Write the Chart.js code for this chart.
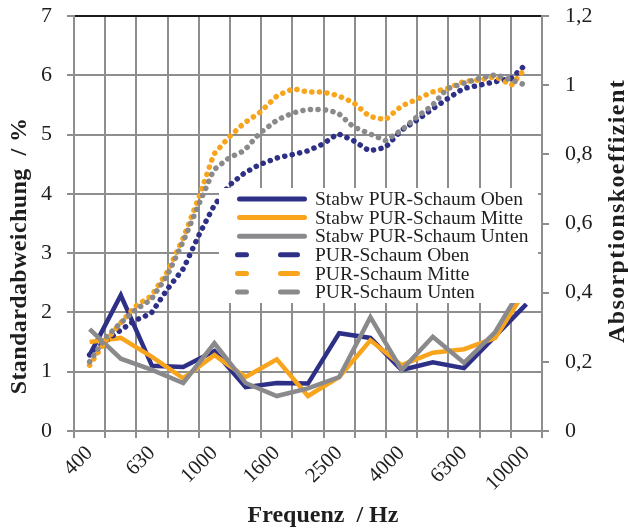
<!DOCTYPE html>
<html>
<head>
<meta charset="utf-8">
<script src="https://cdn.jsdelivr.net/npm/chart.js@4.4.1/dist/chart.umd.min.js"></script>
<style>
  html, body { margin: 0; padding: 0; background: #fff; }
  canvas { display: block; }
</style>
</head>
<body>
<canvas id="chart" width="628" height="531"></canvas>
<script>
// Terzbaender (Kategorien der Standardabweichung)
const bands = ['400', '500', '630', '800', '1000', '1250', '1600', '2000', '2500', '3150', '4000', '5000', '6300', '8000', '10000'];

// Standardabweichung in %
const stabwOben  = [1.28, 2.29, 1.10, 1.08, 1.35, 0.74, 0.81, 0.80, 1.65, 1.57, 1.03, 1.16, 1.06, 1.60, 2.14];
const stabwMitte = [1.50, 1.57, 1.25, 0.89, 1.28, 0.91, 1.21, 0.59, 0.91, 1.53, 1.11, 1.32, 1.38, 1.57, 2.40];
const stabwUnten = [1.72, 1.22, 1.03, 0.81, 1.48, 0.81, 0.59, 0.72, 0.91, 1.92, 1.03, 1.59, 1.15, 1.67, 2.55];

// Absorptionskoeffizient (feinere Frequenzaufloesung, Hz)
const absFreq  = [400, 450, 500, 560, 630, 710, 800, 900, 1000, 1120, 1250, 1400, 1600, 1800, 2000,
                  2240, 2500, 2800, 3150, 3550, 4000, 4500, 5000, 5600, 6300, 7100, 8000, 9000, 10000];
const absOben  = [0.22, 0.26, 0.29, 0.32, 0.34, 0.41, 0.47, 0.57, 0.65, 0.71, 0.745, 0.77, 0.79, 0.80, 0.81,
                  0.83, 0.86, 0.84, 0.81, 0.82, 0.87, 0.90, 0.93, 0.96, 0.99, 1.00, 1.01, 1.02, 1.06];
const absMitte = [0.19, 0.26, 0.31, 0.36, 0.39, 0.46, 0.56, 0.68, 0.80, 0.85, 0.89, 0.92, 0.97, 0.99, 0.98,
                  0.98, 0.97, 0.95, 0.91, 0.90, 0.94, 0.96, 0.98, 0.99, 1.01, 1.015, 1.025, 1.00, 1.05];
const absUnten = [0.20, 0.27, 0.31, 0.35, 0.38, 0.45, 0.55, 0.66, 0.755, 0.79, 0.81, 0.86, 0.90, 0.92, 0.93,
                  0.93, 0.92, 0.88, 0.86, 0.84, 0.87, 0.91, 0.94, 0.99, 1.005, 1.02, 1.03, 1.015, 1.00];

const leftTicks = [0, 1, 2, 3, 4, 5, 6, 7];
const rightTicks = [0, 0.2, 0.4, 0.6, 0.8, 1, 1.2];

const BLUE = '#2e3087';
const ORANGE = '#f8a51d';
const GRAY = '#8a8a8c';
const GRID = '#8e8e8e';
const TEXT = '#1e1e1e';
const FONT = "'Liberation Serif', 'Times New Roman', serif";

function pts(vals) {
  return absFreq.map((f, i) => ({ x: f, y: vals[i] }));
}

function solid(label, data, color, order) {
  return {
    label, data, order,
    borderColor: color, backgroundColor: color,
    borderWidth: 4.5, pointRadius: 0, tension: 0,
    borderJoinStyle: 'miter', xAxisID: 'x', yAxisID: 'y'
  };
}

function dotted(label, data, color, order) {
  return {
    label, data: pts(data), order,
    borderColor: color, backgroundColor: color,
    borderWidth: 5.5, borderDash: [0.1, 7.5], borderCapStyle: 'round',
    pointRadius: 0, tension: 0, xAxisID: 'x2', yAxisID: 'y1', isDotted: true
  };
}

// Legende und Achsentitel selbst zeichnen (Excel-Lage)
const overlay = {
  id: 'overlay',
  afterDatasetsDraw(chart) {
    const ctx = chart.ctx;
    ctx.save();
    ctx.fillStyle = '#fff';
    ctx.fillRect(219, 188, 319, 115);
    ctx.font = '19.5px ' + FONT;
    ctx.textBaseline = 'middle';
    ctx.lineCap = 'round';
    chart.data.datasets.forEach((ds, i) => {
      const y = 199 + i * 18.6;
      ctx.strokeStyle = ds.borderColor;
      ctx.lineWidth = 5;
      ctx.beginPath();
      if (ds.isDotted) {
        ctx.moveTo(237.5, y); ctx.lineTo(246.5, y);
        ctx.moveTo(280.5, y); ctx.lineTo(297.5, y);
      } else {
        ctx.moveTo(239.5, y); ctx.lineTo(304.5, y);
      }
      ctx.stroke();
      ctx.fillStyle = TEXT;
      ctx.fillText(ds.label, 315, y + 1);
    });
    ctx.restore();
  },
  afterDraw(chart) {
    const ctx = chart.ctx;
    ctx.save();
    ctx.fillStyle = TEXT;
    ctx.font = 'bold 24px ' + FONT;
    ctx.textAlign = 'center';
    ctx.textBaseline = 'alphabetic';

    ctx.letterSpacing = '0.4px';
    ctx.save();
    ctx.translate(26, 256);
    ctx.rotate(-Math.PI / 2);
    ctx.fillText('Standardabweichung  / %', 0, 0);
    ctx.restore();

    ctx.letterSpacing = '1.4px';
    ctx.save();
    ctx.translate(624, 211);
    ctx.rotate(-Math.PI / 2);
    ctx.fillText('Absorptionskoeffizient', 0, 0);
    ctx.restore();

    ctx.letterSpacing = '0px';
    ctx.fillText('Frequenz  / Hz', 323, 522);
    ctx.restore();
  }
};

new Chart(document.getElementById('chart'), {
  type: 'line',
  data: {
    labels: bands,
    datasets: [
      solid('Stabw PUR-Schaum Oben', stabwOben, BLUE, 6),
      solid('Stabw PUR-Schaum Mitte', stabwMitte, ORANGE, 5),
      solid('Stabw PUR-Schaum Unten', stabwUnten, GRAY, 4),
      dotted('PUR-Schaum Oben', absOben, BLUE, 3),
      dotted('PUR-Schaum Mitte', absMitte, ORANGE, 2),
      dotted('PUR-Schaum Unten', absUnten, GRAY, 1)
    ]
  },
  options: {
    responsive: false,
    animation: false,
    layout: { padding: { top: 16, left: 0, right: 0, bottom: 0 } },
    plugins: {
      legend: { display: false },
      tooltip: { enabled: false }
    },
    scales: {
      x: {
        type: 'category',
        offset: true,
        grid: { offset: true, color: GRID, lineWidth: 2, tickLength: 7, tickColor: GRID },
        border: { color: GRID, width: 2 },
        ticks: {
          autoSkip: false, minRotation: 45, maxRotation: 45, padding: 3,
          color: TEXT, font: { family: FONT, size: 21 },
          callback: function (value, index) {
            return index % 2 === 0 ? this.getLabelForValue(value) : '';
          }
        },
        afterFit: s => { s.height = 100; s.paddingLeft = 0; s.paddingRight = 0; }
      },
      x2: {
        type: 'logarithmic',
        display: false,
        min: 400 / Math.pow(10, 0.05),
        max: 400 * Math.pow(10, 1.45)
      },
      y: {
        position: 'left',
        min: leftTicks[0], max: leftTicks[leftTicks.length - 1],
        afterBuildTicks: s => { s.ticks = leftTicks.map(v => ({ value: v })); },
        grid: {
          color: c => (c.tick && c.tick.value === 7 ? '#1a1a1a' : GRID),
          lineWidth: 2, tickLength: 7, tickColor: GRID
        },
        border: { color: GRID, width: 2 },
        ticks: { color: TEXT, padding: 15, font: { family: FONT, size: 22 } },
        afterFit: s => { s.width = 74; s.paddingTop = 0; s.paddingBottom = 0; }
      },
      y1: {
        position: 'right',
        min: rightTicks[0], max: rightTicks[rightTicks.length - 1],
        afterBuildTicks: s => { s.ticks = rightTicks.map(v => ({ value: v })); },
        grid: { drawOnChartArea: false, color: GRID, lineWidth: 2, tickLength: 7, tickColor: GRID },
        border: { color: GRID, width: 2 },
        ticks: {
          color: TEXT, padding: 16, font: { family: FONT, size: 22 },
          callback: v => String(Number(v.toFixed(1))).replace('.', ',')
        },
        afterFit: s => { s.width = 86; s.paddingTop = 0; s.paddingBottom = 0; }
      }
    }
  },
  plugins: [overlay]
});
</script>
</body>
</html>
